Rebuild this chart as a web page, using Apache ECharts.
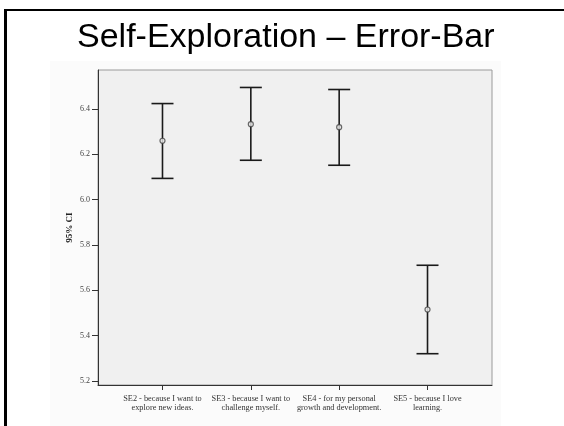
<!DOCTYPE html>
<html>
<head>
<meta charset="utf-8">
<script src="https://cdn.jsdelivr.net/npm/echarts@6/dist/echarts.min.js"></script>
<style>
  html, body { margin: 0; padding: 0; background: #ffffff; }
  #chart { width: 564px; height: 426px; }
</style>
</head>
<body>
<div id="chart"></div>
<script>
// Item labels along the horizontal axis
const categories = [
  'SE2 - because I want to\nexplore new ideas.',
  'SE3 - because I want to\nchallenge myself.',
  'SE4 - for my personal\ngrowth and development.',
  'SE5 - because I love\nlearning.'
];
// Means and 95% confidence interval bounds
const means = [6.259, 6.332, 6.319, 5.515];
const lower = [6.093, 6.173, 6.151, 5.320];
const upper = [6.423, 6.494, 6.485, 5.710];
// Tick values on the vertical axis
const yTicks = [5.2, 5.4, 5.6, 5.8, 6.0, 6.2, 6.4];
const xTicks = [0, 1, 2, 3];

const serif = '"Liberation Serif", "DejaVu Serif", serif';

const chart = echarts.init(document.getElementById('chart'), null, { renderer: 'canvas' });

chart.setOption({
  animation: false,
  backgroundColor: '#ffffff',
  title: {
    text: 'Self-Exploration \u2013 Error-Bar',
    left: 72,
    top: 16,
    textStyle: {
      fontFamily: '"Liberation Sans", Arial, sans-serif',
      fontSize: 34,
      fontWeight: 'normal',
      color: '#000000'
    }
  },
  graphic: [
    { type: 'rect', z: -10, silent: true, shape: { x: 50, y: 61, width: 451, height: 370 }, style: { fill: '#fbfbfb' } },
    { type: 'rect', z: 10, silent: true, shape: { x: 4, y: 9, width: 3, height: 420 }, style: { fill: '#000000' } },
    { type: 'rect', z: 10, silent: true, shape: { x: 4, y: 9, width: 562, height: 2 }, style: { fill: '#000000' } }
  ],
  grid: {
    left: 98,
    right: 72,
    top: 70,
    bottom: 41,
    show: true,
    backgroundColor: '#f0f0f0',
    borderColor: '#9a9a9a',
    borderWidth: 1
  },
  xAxis: {
    type: 'value',
    min: -0.73,
    max: 3.73,
    splitLine: { show: false },
    axisLine: { show: true, onZero: false, lineStyle: { color: '#333333', width: 1 } },
    axisTick: { show: true, customValues: xTicks, length: 5, lineStyle: { color: '#333333' } },
    axisLabel: {
      customValues: xTicks,
      formatter: v => categories[Math.round(v)],
      margin: 9,
      fontFamily: serif,
      fontSize: 8.3,
      lineHeight: 9,
      color: '#333333',
      align: 'center'
    }
  },
  yAxis: {
    type: 'value',
    min: 5.182,
    max: 6.571,
    name: '95% CI',
    nameLocation: 'middle',
    nameRotate: 90,
    nameGap: 24,
    nameMoveOverlap: false,
    nameTextStyle: { fontFamily: serif, fontSize: 9, fontWeight: 'bold', color: '#222222' },
    splitLine: { show: false },
    axisLine: { show: true, onZero: false, lineStyle: { color: '#333333', width: 1 } },
    axisTick: { show: true, customValues: yTicks, length: 6, lineStyle: { color: '#333333' } },
    axisLabel: {
      customValues: yTicks,
      formatter: v => v.toFixed(1),
      margin: 8,
      fontFamily: serif,
      fontSize: 8,
      color: '#444444'
    }
  },
  series: [
    {
      type: 'custom',
      name: '95% CI',
      data: categories.map((c, i) => [i, lower[i], upper[i]]),
      renderItem: (params, api) => {
        const x = api.value(0);
        const lo = api.coord([x, api.value(1)]);
        const hi = api.coord([x, api.value(2)]);
        const hw = 11;
        const style = { stroke: '#1a1a1a', lineWidth: 1.6 };
        return {
          type: 'group',
          children: [
            { type: 'line', shape: { x1: lo[0], y1: lo[1], x2: hi[0], y2: hi[1] }, style },
            { type: 'line', shape: { x1: hi[0] - hw, y1: hi[1], x2: hi[0] + hw, y2: hi[1] }, style },
            { type: 'line', shape: { x1: lo[0] - hw, y1: lo[1], x2: lo[0] + hw, y2: lo[1] }, style }
          ]
        };
      },
      z: 2
    },
    {
      type: 'scatter',
      name: 'Mean',
      data: means.map((m, i) => [i, m]),
      symbol: 'circle',
      symbolSize: 5,
      itemStyle: { color: '#eeeeee', borderColor: '#444444', borderWidth: 1.2 },
      z: 3
    }
  ]
});
</script>
</body>
</html>
